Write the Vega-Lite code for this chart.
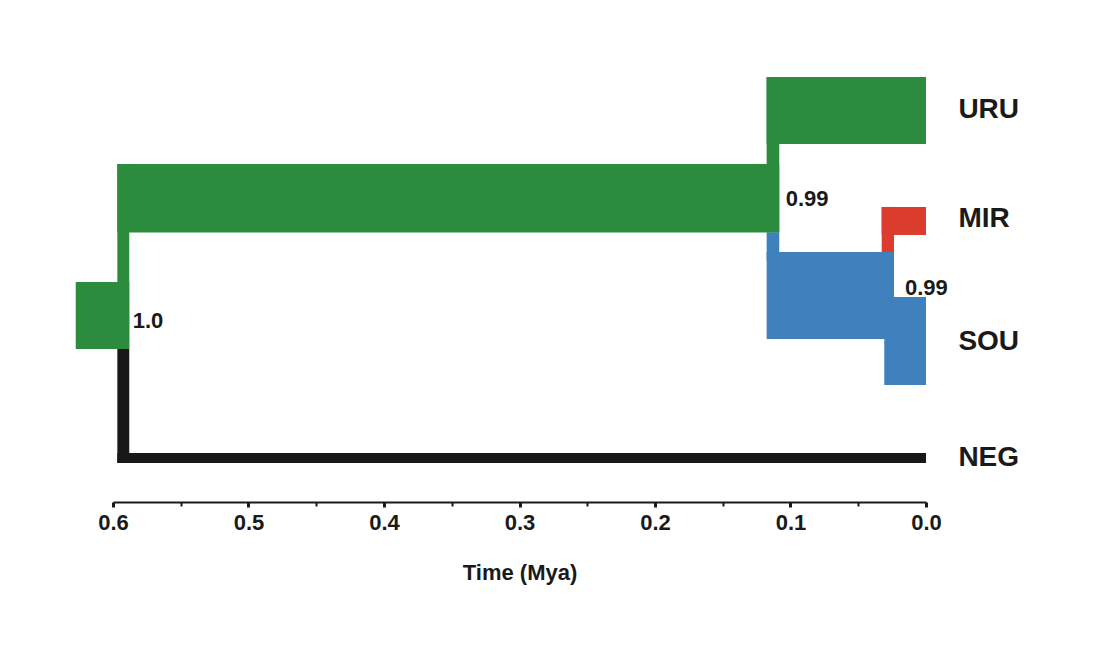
{
  "$schema": "https://vega.github.io/schema/vega-lite/v6.json",
  "width": 813,
  "height": 502,
  "autosize": {"type": "none"},
  "padding": {"left": 113, "top": 0, "right": 175, "bottom": 154},
  "background": "white",
  "config": {"view": {"stroke": null}},
  "datasets": {
    "branches": [
      {"branch": "URU tip", "clade": "URU", "t0": 0.1176, "t1": 0.0, "y0": 0.714, "y1": 1.292},
      {"branch": "URU stem", "clade": "URU", "t0": 0.1176, "t1": 0.1083, "y0": 0.714, "y1": 2.055},
      {"branch": "URU+MIR+SOU ancestor", "clade": "URU", "t0": 0.5968, "t1": 0.1083, "y0": 1.465, "y1": 2.055},
      {"branch": "root stem", "clade": "URU", "t0": 0.5968, "t1": 0.588, "y0": 1.465, "y1": 3.06},
      {"branch": "root", "clade": "URU", "t0": 0.6275, "t1": 0.588, "y0": 2.482, "y1": 3.06},
      {"branch": "MIR+SOU stem", "clade": "SOU", "t0": 0.1176, "t1": 0.1083, "y0": 2.055, "y1": 2.3},
      {"branch": "MIR+SOU ancestor", "clade": "SOU", "t0": 0.1176, "t1": 0.0236, "y0": 2.224, "y1": 2.974},
      {"branch": "SOU tip", "clade": "SOU", "t0": 0.0308, "t1": 0.0, "y0": 2.612, "y1": 3.371},
      {"branch": "MIR tip", "clade": "MIR", "t0": 0.0327, "t1": 0.0, "y0": 1.835, "y1": 2.077},
      {"branch": "MIR stem", "clade": "MIR", "t0": 0.0327, "t1": 0.0236, "y0": 1.835, "y1": 2.224},
      {"branch": "NEG stem", "clade": "NEG", "t0": 0.5968, "t1": 0.588, "y0": 3.06, "y1": 4.043},
      {"branch": "NEG tip", "clade": "NEG", "t0": 0.5968, "t1": 0.0, "y0": 3.957, "y1": 4.043}
    ],
    "tips": [
      {"label": "URU", "t": -0.0239, "y": 1.0},
      {"label": "MIR", "t": -0.0239, "y": 1.94},
      {"label": "SOU", "t": -0.0239, "y": 3.0},
      {"label": "NEG", "t": -0.0239, "y": 4.0}
    ],
    "support": [
      {"label": "0.99", "t": 0.1035, "y": 1.766},
      {"label": "0.99", "t": 0.0155, "y": 2.534},
      {"label": "1.0", "t": 0.5855, "y": 2.819}
    ]
  },
  "layer": [
    {
      "data": {"name": "branches"},
      "mark": {"type": "rect", "strokeWidth": 0},
      "encoding": {
        "x": {
          "field": "t0", "type": "quantitative",
          "scale": {"domain": [0, 0.6], "reverse": true, "nice": false, "zero": false},
          "axis": {
            "title": "Time (Mya)",
            "values": [0, 0.05, 0.1, 0.15, 0.2, 0.25, 0.3, 0.35, 0.4, 0.45, 0.5, 0.55, 0.6],
            "labelExpr": "abs(datum.value*10 - round(datum.value*10)) < 0.001 ? format(datum.value, '.1f') : ''",
            "grid": false,
            "domainColor": "#1a1a1a",
            "domainWidth": 2,
            "tickColor": "#1a1a1a",
            "tickSize": {"condition": {"test": "abs(datum.value*10 - round(datum.value*10)) < 0.001", "value": 5}, "value": 4},
            "tickWidth": {"condition": {"test": "abs(datum.value*10 - round(datum.value*10)) < 0.001", "value": 3}, "value": 2},
            "labelFont": "Liberation Sans",
            "labelFontWeight": "bold",
            "labelFontSize": 22,
            "labelColor": "#1a1a1a",
            "labelPadding": 5,
            "labelFlush": false,
            "labelOverlap": false,
            "titleFont": "Liberation Sans",
            "titleFontWeight": "bold",
            "titleFontSize": 22,
            "titleColor": "#1a1a1a",
            "titlePadding": 29
          }
        },
        "x2": {"field": "t1"},
        "y": {
          "field": "y0", "type": "quantitative",
          "scale": {"domain": [0.05, 4.38], "reverse": true, "nice": false, "zero": false},
          "axis": null
        },
        "y2": {"field": "y1"},
        "color": {
          "field": "clade", "type": "nominal",
          "scale": {"domain": ["URU", "SOU", "MIR", "NEG"], "range": ["#2a8c3c", "#3f81bd", "#dc3c2e", "#1a1717"]},
          "legend": null
        }
      }
    },
    {
      "data": {"name": "tips"},
      "mark": {"type": "text", "align": "left", "baseline": "middle", "font": "Liberation Sans", "fontWeight": "bold", "fontSize": 28, "color": "#1a1a1a"},
      "encoding": {
        "x": {"field": "t", "type": "quantitative"},
        "y": {"field": "y", "type": "quantitative"},
        "text": {"field": "label"}
      }
    },
    {
      "data": {"name": "support"},
      "mark": {"type": "text", "align": "left", "baseline": "middle", "font": "Liberation Sans", "fontWeight": "bold", "fontSize": 22, "color": "#1a1a1a"},
      "encoding": {
        "x": {"field": "t", "type": "quantitative"},
        "y": {"field": "y", "type": "quantitative"},
        "text": {"field": "label"}
      }
    }
  ]
}
